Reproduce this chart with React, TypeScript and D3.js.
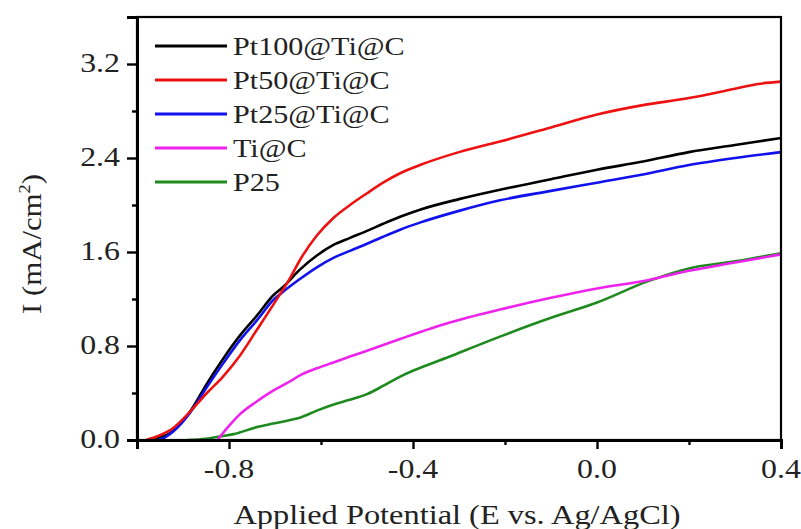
import React, { useEffect, useRef } from "react";
import * as d3 from "d3";

const seriesNames = ["Pt100@Ti@C", "Pt50@Ti@C", "Pt25@Ti@C", "Ti@C", "P25"];
const seriesColors = ["#000000", "#ee1111", "#1111ee", "#ee22ee", "#1e8a1e"];

const pt100: [number, number][] = [
  [-0.975, 0], [-0.95, 0.02], [-0.92, 0.08], [-0.885, 0.24], [-0.848, 0.48], [-0.813, 0.69],
  [-0.776, 0.89], [-0.739, 1.06], [-0.704, 1.23], [-0.683, 1.3], [-0.646, 1.45], [-0.609, 1.57],
  [-0.573, 1.66], [-0.537, 1.72], [-0.5, 1.78], [-0.465, 1.84], [-0.428, 1.9], [-0.385, 1.96],
  [-0.3, 2.05], [-0.211, 2.13], [-0.1, 2.22], [0.0, 2.3], [0.1, 2.37], [0.2, 2.45], [0.3, 2.51], [0.4, 2.57],
];
const pt50: [number, number][] = [
  [-0.98, 0], [-0.95, 0.04], [-0.922, 0.1], [-0.885, 0.24], [-0.848, 0.4], [-0.813, 0.54],
  [-0.776, 0.72], [-0.739, 0.94], [-0.704, 1.15], [-0.667, 1.38], [-0.646, 1.53], [-0.609, 1.74],
  [-0.573, 1.89], [-0.537, 2.0], [-0.5, 2.1], [-0.465, 2.19], [-0.428, 2.27], [-0.385, 2.34],
  [-0.3, 2.45], [-0.211, 2.54], [-0.1, 2.66], [0.0, 2.77], [0.1, 2.85], [0.2, 2.91], [0.3, 2.99],
  [0.35, 3.03], [0.4, 3.05],
];
const pt25: [number, number][] = [
  [-0.955, 0], [-0.94, 0.02], [-0.922, 0.07], [-0.885, 0.23], [-0.848, 0.45], [-0.813, 0.65],
  [-0.776, 0.85], [-0.739, 1.02], [-0.704, 1.19], [-0.683, 1.26], [-0.646, 1.37], [-0.609, 1.47],
  [-0.573, 1.55], [-0.537, 1.61], [-0.5, 1.67], [-0.465, 1.73], [-0.428, 1.79], [-0.385, 1.85],
  [-0.3, 1.95], [-0.211, 2.04], [-0.1, 2.12], [0.0, 2.19], [0.1, 2.26], [0.2, 2.34], [0.3, 2.4], [0.4, 2.45],
];
const tiC: [number, number][] = [
  [-0.825, 0], [-0.8, 0.12], [-0.776, 0.22], [-0.739, 0.33], [-0.704, 0.42], [-0.667, 0.5],
  [-0.646, 0.55], [-0.609, 0.61], [-0.573, 0.66], [-0.537, 0.71], [-0.5, 0.76], [-0.428, 0.86],
  [-0.32, 1.0], [-0.211, 1.11], [-0.1, 1.21], [0.0, 1.29], [0.11, 1.36], [0.2, 1.44], [0.3, 1.51], [0.4, 1.58],
];
const p25: [number, number][] = [
  [-0.89, 0], [-0.85, 0.01], [-0.82, 0.03], [-0.79, 0.05], [-0.739, 0.11], [-0.704, 0.14],
  [-0.667, 0.17], [-0.646, 0.19], [-0.609, 0.25], [-0.574, 0.3], [-0.54, 0.34], [-0.5, 0.39],
  [-0.465, 0.46], [-0.428, 0.54], [-0.32, 0.71], [-0.211, 0.88], [-0.1, 1.04], [0.0, 1.17],
  [0.11, 1.35], [0.2, 1.46], [0.3, 1.52], [0.4, 1.59],
];
const seriesData = [pt100, pt50, pt25, tiC, p25];

const xMajor = [-0.8, -0.4, 0.0, 0.4];
const xMinor = [-0.6, -0.2, 0.2];
const yMajor = [0.0, 0.8, 1.6, 2.4, 3.2];
const yMinor = [0.4, 1.2, 2.0, 2.8];

const W = 801;
const H = 529;
const M = { left: 137, top: 17, right: 781, bottom: 440 };
const FONT = "'Liberation Serif', 'Times New Roman', serif";

export default function App() {
  const ref = useRef<SVGSVGElement | null>(null);

  useEffect(() => {
    const svg = d3.select(ref.current);
    svg.selectAll("*").remove();

    const x = d3.scaleLinear().domain([-1.0, 0.4]).range([M.left, M.right]);
    const y = d3.scaleLinear().domain([0, 3.6]).range([M.bottom, M.top]);

    const line = d3
      .line<[number, number]>()
      .x((d) => x(d[0]))
      .y((d) => y(d[1]))
      .curve(d3.curveMonotoneX);

    const order = [4, 3, 0, 2, 1];
    order.forEach((i) => {
      svg
        .append("path")
        .attr("d", line(seriesData[i]) as string)
        .attr("fill", "none")
        .attr("stroke", seriesColors[i])
        .attr("stroke-width", 2.6)
        .attr("stroke-linejoin", "round");
    });

    svg
      .append("rect")
      .attr("x", M.left)
      .attr("y", M.top)
      .attr("width", M.right - M.left)
      .attr("height", M.bottom - M.top)
      .attr("fill", "none")
      .attr("stroke", "#000")
      .attr("stroke-width", 2.2);

    const gx = svg.append("g").attr("transform", `translate(0,${M.bottom})`);
    gx.call(d3.axisBottom(x).tickValues(xMajor).tickSize(9).tickFormat(() => ""));
    const gxm = svg.append("g").attr("transform", `translate(0,${M.bottom})`);
    gxm.call(d3.axisBottom(x).tickValues(xMinor).tickSize(5).tickFormat(() => ""));
    const gy = svg.append("g").attr("transform", `translate(${M.left},0)`);
    gy.call(d3.axisLeft(y).tickValues(yMajor).tickSize(10).tickFormat(() => ""));
    const gym = svg.append("g").attr("transform", `translate(${M.left},0)`);
    gym.call(d3.axisLeft(y).tickValues(yMinor).tickSize(5).tickFormat(() => ""));
    [gx, gxm, gy, gym].forEach((g) => {
      g.select(".domain").attr("stroke", "#000").attr("stroke-width", 3);
      g.selectAll(".tick line").attr("stroke", "#000").attr("stroke-width", 2.4);
    });

    const fmt = (v: number) => v.toFixed(1).replace("−", "-");
    xMajor.forEach((v) => {
      svg
        .append("text")
        .attr("transform", `translate(${x(v)},478) scale(1.18,1)`)
        .attr("text-anchor", "middle")
        .attr("font-family", FONT)
        .attr("font-size", 27)
        .attr("fill", "#222")
        .text(fmt(v));
    });
    yMajor.forEach((v) => {
      svg
        .append("text")
        .attr("transform", `translate(120,${y(v) + 8}) scale(1.18,1)`)
        .attr("text-anchor", "end")
        .attr("font-family", FONT)
        .attr("font-size", 27)
        .attr("fill", "#222")
        .text(fmt(v));
    });

    svg
      .append("text")
      .attr("transform", `translate(457,524) scale(1.2,1)`)
      .attr("text-anchor", "middle")
      .attr("font-family", FONT)
      .attr("font-size", 27)
      .attr("fill", "#222")
      .text("Applied Potential (E vs. Ag/AgCl)");

    const yl = svg
      .append("text")
      .attr("transform", `translate(41,244) rotate(-90) scale(1.14,1)`)
      .attr("text-anchor", "middle")
      .attr("font-family", FONT)
      .attr("font-size", 27)
      .attr("fill", "#222");
    yl.append("tspan").text("I (mA/cm");
    yl.append("tspan").attr("dy", -11).attr("font-size", 16).text("2");
    yl.append("tspan").attr("dy", 11).text(")");

    seriesNames.forEach((name, i) => {
      const ly = 46 + i * 34;
      svg
        .append("line")
        .attr("x1", 155)
        .attr("x2", 227)
        .attr("y1", ly)
        .attr("y2", ly)
        .attr("stroke", seriesColors[i])
        .attr("stroke-width", 2.8);
      svg
        .append("text")
        .attr("transform", `translate(233,${ly + 9}) scale(1.16,1)`)
        .attr("font-family", FONT)
        .attr("font-size", 26)
        .attr("fill", "#222")
        .text(name);
    });
  }, []);

  return (
    <svg
      ref={ref}
      width={W}
      height={H}
      style={{ position: "absolute", left: 0, top: 0, background: "#fff" }}
    />
  );
}
